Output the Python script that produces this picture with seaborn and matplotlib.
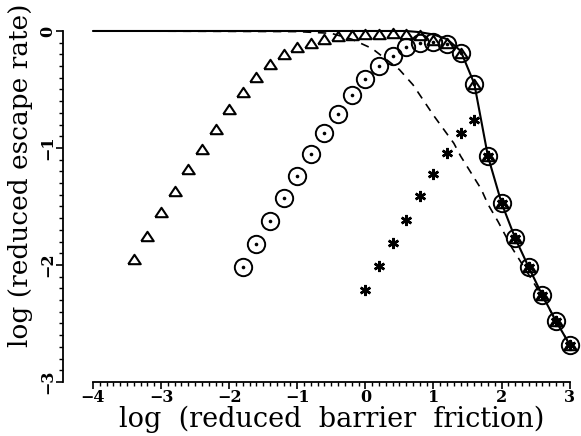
import matplotlib
matplotlib.use("Agg")
import matplotlib.pyplot as plt
import seaborn as sns
import numpy as np
import pandas as pd
from matplotlib.ticker import FixedLocator

# ---- data ----
tri_x = [-3.4, -3.2, -3.0, -2.8, -2.6, -2.4, -2.2, -2.0, -1.8, -1.6, -1.4, -1.2, -1.0,
         -0.8, -0.6, -0.4, -0.2, 0.0, 0.2, 0.4, 0.6, 0.8, 1.0, 1.2, 1.4, 1.6, 1.8,
         2.0, 2.2, 2.4, 2.6, 2.8, 3.0]
tri_y = [-1.95, -1.75, -1.55, -1.37, -1.18, -1.01, -0.84, -0.67, -0.52, -0.39, -0.28,
         -0.20, -0.14, -0.10, -0.07, -0.045, -0.035, -0.03, -0.025, -0.02, -0.03,
         -0.035, -0.08, -0.105, -0.19, -0.45, -1.07, -1.47, -1.77, -2.02, -2.26,
         -2.48, -2.68]

circ_x = [-1.8, -1.6, -1.4, -1.2, -1.0, -0.8, -0.6, -0.4, -0.2, 0.0, 0.2, 0.4, 0.6,
          0.8, 1.0, 1.2, 1.4, 1.6, 1.8, 2.0, 2.2, 2.4, 2.6, 2.8, 3.0]
circ_y = [-2.02, -1.82, -1.62, -1.43, -1.24, -1.05, -0.87, -0.71, -0.55, -0.41, -0.30,
          -0.21, -0.14, -0.10, -0.09, -0.11, -0.19, -0.45, -1.07, -1.47, -1.77, -2.02,
          -2.26, -2.48, -2.68]

star_x = [0.0, 0.2, 0.4, 0.6, 0.8, 1.0, 1.2, 1.4, 1.6, 1.8, 2.0, 2.2, 2.4, 2.6, 2.8, 3.0]
star_y = [-2.21, -2.01, -1.81, -1.615, -1.41, -1.22, -1.04, -0.87, -0.76, -1.07, -1.47,
          -1.77, -2.02, -2.26, -2.48, -2.68]

solid_x = [-4.0, 0.6, 0.8, 1.0, 1.2, 1.4, 1.6, 1.8, 2.0, 2.2, 2.4, 2.6, 2.8, 3.0]
solid_y = [0.0, 0.0, -0.01, -0.03, -0.07, -0.17, -0.45, -1.07, -1.47, -1.77, -2.02,
           -2.26, -2.48, -2.68]

dash_x = [-4.0, -1.0, -0.5, -0.2, 0.1, 0.5, 0.7, 0.85, 1.0, 1.15, 1.3, 1.4, 1.55, 1.7,
          1.8, 1.95, 2.15, 2.45, 2.65, 2.8, 3.0]
dash_y = [0.0, -0.005, -0.02, -0.07, -0.15, -0.33, -0.46, -0.59, -0.72, -0.84, -0.96,
          -1.07, -1.21, -1.35, -1.48, -1.63, -1.85, -2.13, -2.32, -2.48, -2.68]

x_major = [-4, -3, -2, -1, 0, 1, 2, 3]
y_major = [0, -1, -2, -3]
xlabel = "log  (reduced  barrier  friction)"
ylabel = "log (reduced escape rate)"

# ---- figure ----
sns.set_style("ticks")
plt.rcParams["font.family"] = ["DejaVu Serif"]

fig = plt.figure(figsize=(5.81, 4.36), dpi=100)
ax = fig.add_axes([0.1084, 0.1239, 0.8896, 0.8587])

sns.lineplot(x=solid_x, y=solid_y, ax=ax, color="black", lw=1.5, sort=False)
sns.lineplot(x=dash_x, y=dash_y, ax=ax, color="black", lw=1.2, sort=False,
             linestyle=(0, (5, 4)))

tri_marker = [(-1, -0.75), (1, -0.75), (0, 0.75), (-1, -0.75)]
sns.lineplot(x=tri_x, y=tri_y, ax=ax, linestyle="", marker=tri_marker, ms=9,
             mfc="none", mec="black", mew=1.5, color="black", clip_on=False)
sns.lineplot(x=circ_x, y=circ_y, ax=ax, linestyle="", marker="o", ms=12.5,
             mfc="none", mec="black", mew=1.4, color="black", clip_on=False)
sns.lineplot(x=circ_x, y=circ_y, ax=ax, linestyle="", marker="o", ms=2.6,
             mfc="black", mec="black", mew=0, color="black", clip_on=False)
sns.lineplot(x=star_x, y=star_y, ax=ax, linestyle="", marker=(6, 2, 0), ms=8,
             mec="black", mew=1.8, color="black", clip_on=False)

ax.set_xlim(-4.44, 3.15)
ax.set_ylim(-3.0, 0.2)
ax.spines["top"].set_visible(False)
ax.spines["right"].set_visible(False)
ax.spines["left"].set_bounds(-3, 0)
ax.spines["bottom"].set_bounds(-4, 3)
for s in ("left", "bottom"):
    ax.spines[s].set_linewidth(1.3)
    ax.spines[s].set_color("black")

ax.set_xticks(x_major)
ax.set_xticklabels([("\u2212%d" % -v) if v < 0 else "%d" % v for v in x_major])
ax.set_yticks(y_major)
ax.set_yticklabels([("\u2212%d" % -v) if v < 0 else "%d" % v for v in y_major])
ax.xaxis.set_minor_locator(FixedLocator(np.round(np.arange(-4, 3.001, 0.1), 2)))
ax.yaxis.set_minor_locator(FixedLocator(np.round(np.arange(-3, 0.001, 0.1), 2)))
ax.tick_params(which="major", direction="out", length=5, width=1.2, color="black")
ax.tick_params(which="minor", direction="out", length=3, width=1.0, color="black")
ax.tick_params(axis="x", which="major", pad=0, labelsize=11.5)
ax.tick_params(axis="y", which="major", pad=0, labelsize=11.5, labelrotation=90)
for t in ax.get_xticklabels() + ax.get_yticklabels():
    t.set_fontweight("bold")
    t.set_color("black")
for t in ax.get_yticklabels():
    t.set_va("center")

ax.set_xlabel(xlabel, fontsize=19.5, va="center", color="black")
ax.xaxis.set_label_coords(0.52, -0.1)
ax.set_ylabel(ylabel, fontsize=19, va="center", ha="center", color="black")
ax.yaxis.set_label_coords(-0.083, 0.553)

fig.savefig("out.png", dpi=100)
